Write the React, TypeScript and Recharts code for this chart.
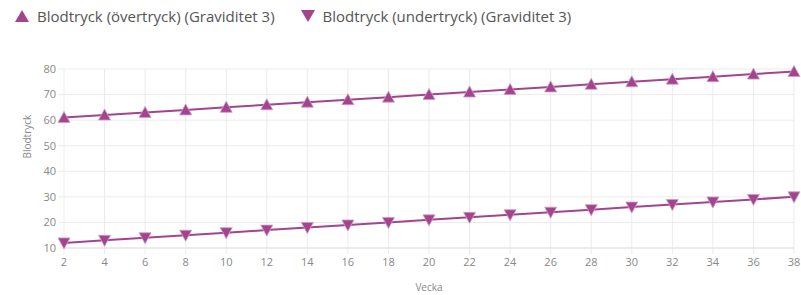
import { LineChart, Line, XAxis, YAxis, CartesianGrid } from "recharts"

const weeks = [2, 4, 6, 8, 10, 12, 14, 16, 18, 20, 22, 24, 26, 28, 30, 32, 34, 36, 38]
const systolic = [61, 62, 63, 64, 65, 66, 67, 68, 69, 70, 71, 72, 73, 74, 75, 76, 77, 78, 79]
const diastolic = [12, 13, 14, 15, 16, 17, 18, 19, 20, 21, 22, 23, 24, 25, 26, 27, 28, 29, 30]
const yTicks = [10, 20, 30, 40, 50, 60, 70, 80]
const seriesNames = ["Blodtryck (övertryck) (Graviditet 3)", "Blodtryck (undertryck) (Graviditet 3)"]

const data = weeks.map((w, i) => ({ week: w, sys: systolic[i], dia: diastolic[i] }))

const COLOR = "#a3448f"
const FONT = "'Open Sans', sans-serif"

function TriUp(props: any) {
  const { cx, cy, index } = props
  if (cx == null || cy == null) return null
  return <path key={"u" + index} d={`M${cx},${cy - 6} L${cx + 6},${cy + 5} L${cx - 6},${cy + 5} Z`} fill={COLOR} stroke="#cf9cc4" strokeWidth={0.8} />
}

function TriDown(props: any) {
  const { cx, cy, index } = props
  if (cx == null || cy == null) return null
  return <path key={"d" + index} d={`M${cx - 6},${cy - 5} L${cx + 6},${cy - 5} L${cx},${cy + 6} Z`} fill={COLOR} stroke="#cf9cc4" strokeWidth={0.8} />
}

export default function App() {
  return (
    <div style={{ position: "absolute", left: 0, top: 0, width: 801, height: 295, background: "#fff", fontFamily: FONT }}>

      {/* legend */}
      <div style={{ position: "absolute", top: 6, left: 15, display: "flex", fontSize: 15, color: "#555" }}>
        <div style={{ display: "flex", alignItems: "center" }}>
          <svg width={14} height={12} style={{ marginRight: 8 }}>
            <path d="M7,0 L14,12 L0,12 Z" fill={COLOR} />
          </svg>
          {seriesNames[0]}
        </div>
        <div style={{ display: "flex", alignItems: "center", marginLeft: 26 }}>
          <svg width={14} height={12} style={{ marginRight: 8 }}>
            <path d="M0,0 L14,0 L7,12 Z" fill={COLOR} />
          </svg>
          {seriesNames[1]}
        </div>
      </div>

      <div style={{ position: "absolute", left: 0, top: 0 }}>
        <LineChart width={801} height={295} data={data} margin={{ top: 69, right: 7, left: 0, bottom: 0 }}>
          <CartesianGrid stroke="#ebebeb" vertical={true} horizontal={true} />
          <XAxis
            dataKey="week"
            type="number"
            domain={[2, 38]}
            ticks={weeks}
            height={47}
            stroke="#e0e0e0"
            tickLine={{ stroke: "#ebebeb" }}
            tickSize={6}
            tickMargin={4}
            tick={{ fill: "#888", fontSize: 11, fontFamily: FONT }}
            label={{ value: "Vecka", position: "insideBottom", offset: 4, fill: "#888", fontSize: 10, fontFamily: FONT }}
          />
          <YAxis
            domain={[10, 80]}
            ticks={yTicks}
            width={64}
            axisLine={false}
            tickLine={{ stroke: "#ebebeb" }}
            tickSize={6}
            tickMargin={2}
            tick={{ fill: "#888", fontSize: 11, fontFamily: FONT }}
            label={{ value: "Blodtryck", angle: -90, position: "insideLeft", offset: 27, fill: "#888", fontSize: 10, fontFamily: FONT }}
          />
          <Line type="linear" dataKey="sys" stroke={COLOR} strokeWidth={2} dot={TriUp} isAnimationActive={false} />
          <Line type="linear" dataKey="dia" stroke={COLOR} strokeWidth={2} dot={TriDown} isAnimationActive={false} />
        </LineChart>
      </div>
    </div>
  )
}
